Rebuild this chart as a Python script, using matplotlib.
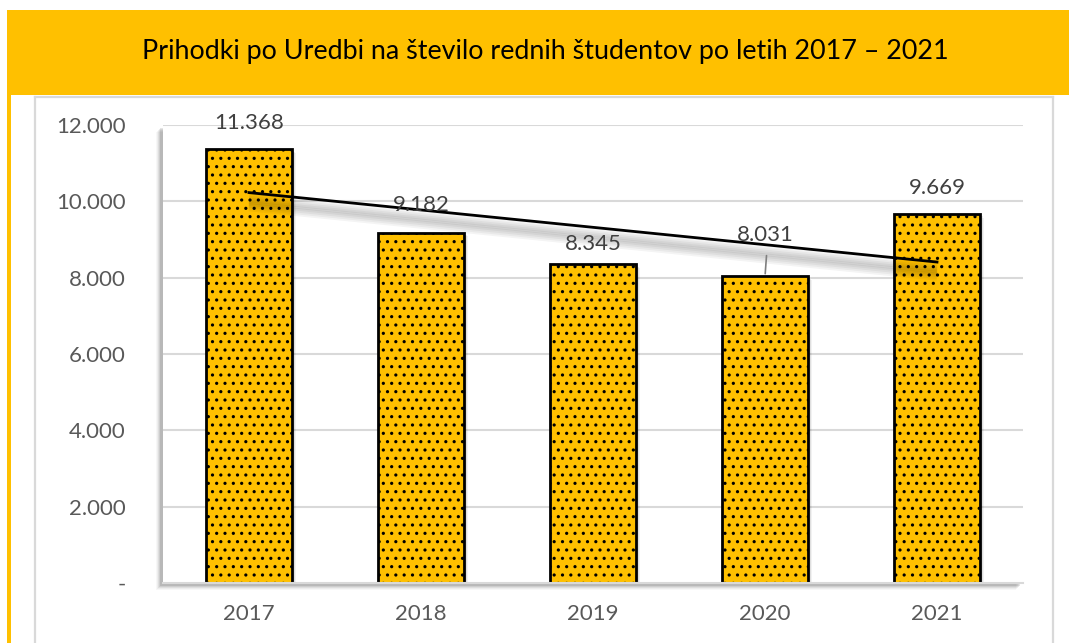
import matplotlib
matplotlib.use("Agg")
import matplotlib.pyplot as plt
import numpy as np
from matplotlib.patches import Rectangle
from matplotlib.lines import Line2D
import matplotlib.transforms as mtransforms

years = ["2017", "2018", "2019", "2020", "2021"]
values = [11368, 9182, 8345, 8031, 9669]
yticks = [0, 2000, 4000, 6000, 8000, 10000, 12000]
ytick_labels = ["-", "2.000", "4.000", "6.000", "8.000", "10.000", "12.000"]
value_labels = ["11.368", "9.182", "8.345", "8.031", "9.669"]
title = "Prihodki po Uredbi na število rednih študentov po letih 2017 – 2021"

W, H = 1069, 643
plt.rcParams['font.family'] = ['Lato', 'DejaVu Sans']
plt.rcParams['hatch.linewidth'] = 1.1

fig = plt.figure(figsize=(W / 100, H / 100), dpi=100)
fig.patch.set_facecolor('white')

def fx(px):
    return px / W

def fy(py):
    return 1 - py / H

gold = '#FFC000'
# title band
fig.add_artist(Rectangle((fx(7), fy(95)), fx(W - 7), (95 - 10) / H, transform=fig.transFigure,
                         facecolor=gold, edgecolor='none', zorder=0))
# left stripe
fig.add_artist(Rectangle((fx(7), 0), fx(4), fy(95), transform=fig.transFigure,
                         facecolor=gold, edgecolor='none', zorder=0))
# inner gray frame
fig.add_artist(Line2D([fx(35), fx(35)], [0, fy(97)], transform=fig.transFigure, color='#D9D9D9', lw=1.6))
fig.add_artist(Line2D([fx(35), fx(1053)], [fy(97), fy(97)], transform=fig.transFigure, color='#D9D9D9', lw=1.6))
fig.add_artist(Line2D([fx(1053), fx(1053)], [0, fy(97)], transform=fig.transFigure, color='#D9D9D9', lw=1.6))

fig.text(fx(545), fy(52), title, ha='center', va='center', fontsize=19.4, color='black')

# plot area shadow
L, R, T, B = 163, 1023, 125, 583
for i, a in enumerate([0.10, 0.08, 0.06, 0.04, 0.03]):
    d = i + 1
    fig.add_artist(Rectangle((fx(L - 2 - d), fy(B + 2 + d)), fx(R - L), (B - T) / H,
                             transform=fig.transFigure, facecolor='black', alpha=a,
                             edgecolor='none', zorder=0.5))
fig.add_artist(Rectangle((fx(L), fy(B)), fx(R - L), (B - T) / H, transform=fig.transFigure,
                         facecolor='white', edgecolor='none', zorder=0.6))

ax = fig.add_axes([fx(L), fy(B), fx(R - L), (B - T) / H])
ax.set_facecolor('none')
ax.set_zorder(1)

x = np.arange(len(years))
ax.set_xlim(-0.5, len(years) - 0.5)
ax.set_ylim(0, 12000)

for yv in yticks[1:]:
    ax.axhline(yv, color='#D9D9D9', lw=1.5, zorder=0)

# bar shadows
for i, a in enumerate([0.12, 0.08, 0.05]):
    off = mtransforms.offset_copy(ax.transData, fig=fig, x=(i + 1) * 0.9, y=-(i + 1) * 0.9, units='points')
    ax.bar(x, values, width=0.5, color='black', alpha=a, edgecolor='none', transform=off, zorder=1)

ax.bar(x, values, width=0.5, color=gold, edgecolor='black', linewidth=2.0, hatch='..', zorder=2)

ax.spines[['top', 'right', 'left']].set_visible(False)
ax.spines['bottom'].set_color('#D9D9D9')
ax.spines['bottom'].set_linewidth(1.5)

ax.set_yticks(yticks)
ax.set_yticklabels(ytick_labels)
ax.set_xticks(x)
ax.set_xticklabels(years)
ax.tick_params(axis='both', length=0, labelsize=16, labelcolor='#595959')
ax.tick_params(axis='y', pad=27)
ax.tick_params(axis='x', pad=15)

# linear trendline
coef = np.polyfit(x, values, 1)
trend = np.polyval(coef, x)
for i in range(6):
    off = mtransforms.offset_copy(ax.transData, fig=fig, x=0, y=-(4 + i * 1.3), units='points')
    ax.plot(x, trend, color='black', alpha=0.045, lw=6, transform=off, zorder=3, solid_capstyle='butt')
ax.plot(x, trend, color='black', lw=2.0, zorder=4)

# data labels
offsets = [18.5, 19.5, 15, 30, 19]
for xi, v, lab, o in zip(x, values, value_labels, offsets):
    ax.annotate(lab, (xi, v), xytext=(0, o), textcoords='offset points', ha='center', va='center',
                fontsize=16, color='#404040', zorder=5)
# leader line for 2020
ax.annotate('', (3.0, values[3]), xytext=(3.01, values[3] + 620),
            arrowprops=dict(arrowstyle='-', color='#7F7F7F', lw=1.2), zorder=5)

fig.savefig('out.png', dpi=100)
